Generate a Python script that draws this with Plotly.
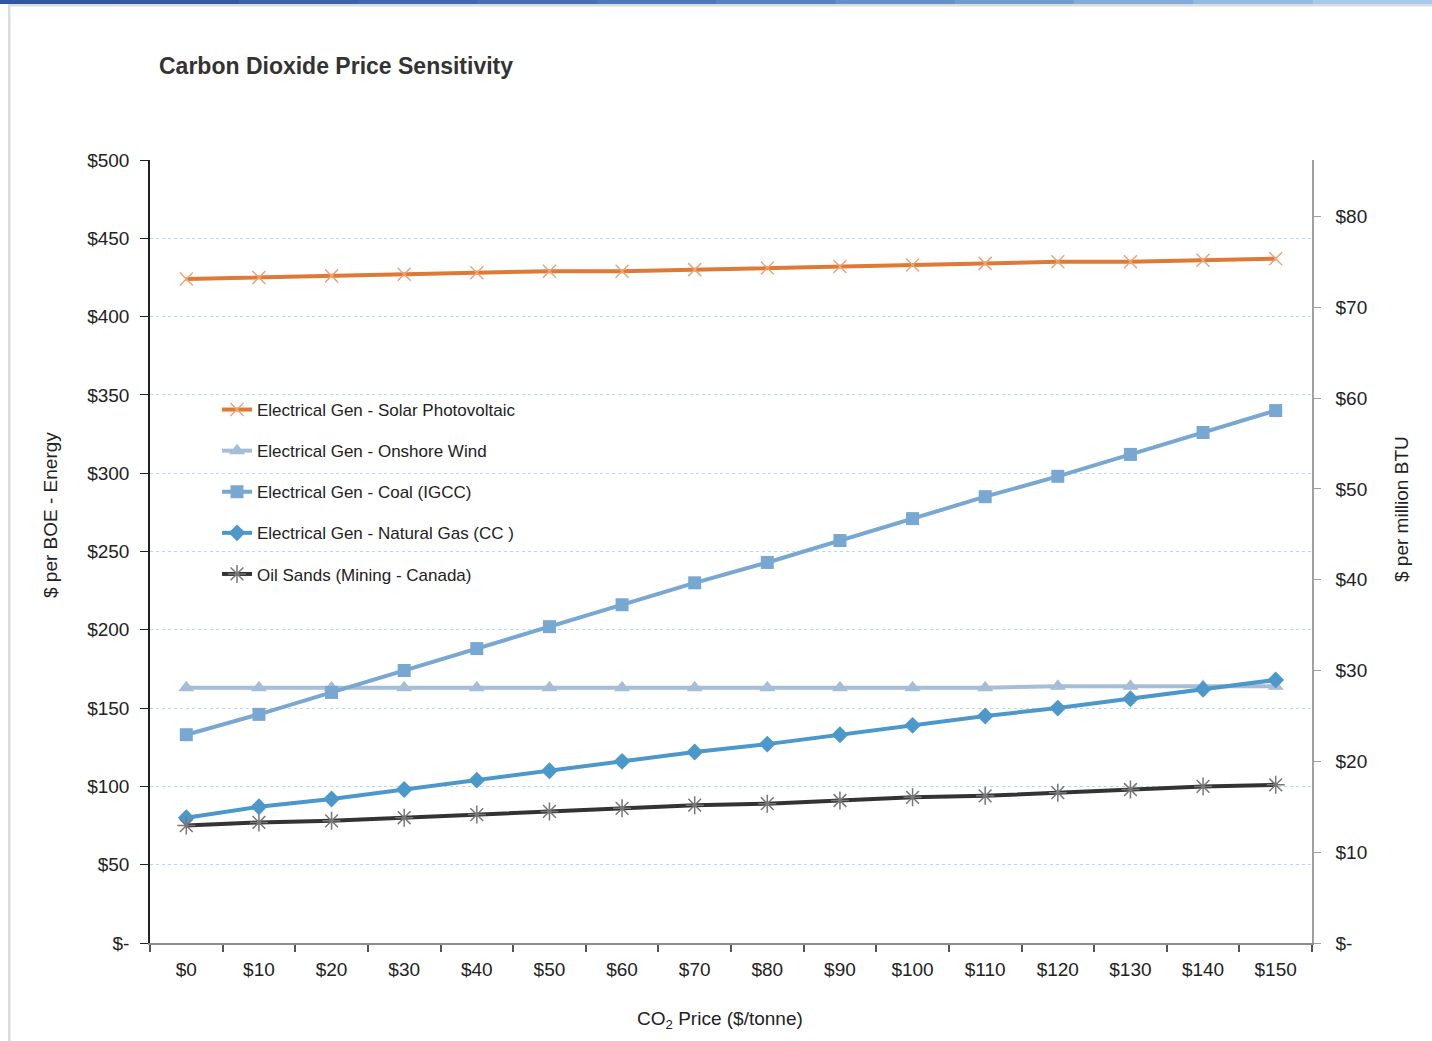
import plotly.graph_objects as go

# CO2 price categories ($/tonne)
co2_prices = ["$0", "$10", "$20", "$30", "$40", "$50", "$60", "$70",
              "$80", "$90", "$100", "$110", "$120", "$130", "$140", "$150"]

# Cost per BOE of energy for each source
solar_pv = [424, 425, 426, 427, 428, 429, 429, 430, 431, 432, 433, 434, 435, 435, 436, 437]
onshore_wind = [163, 163, 163, 163, 163, 163, 163, 163, 163, 163, 163, 163, 164, 164, 164, 164]
coal_igcc = [133, 146, 160, 174, 188, 202, 216, 230, 243, 257, 271, 285, 298, 312, 326, 340]
natural_gas_cc = [80, 87, 92, 98, 104, 110, 116, 122, 127, 133, 139, 145, 150, 156, 162, 168]
oil_sands = [75, 77, 78, 80, 82, 84, 86, 88, 89, 91, 93, 94, 96, 98, 100, 101]

# Left axis ticks ($ per BOE) and right axis ticks ($ per million BTU)
boe_ticks = [0, 50, 100, 150, 200, 250, 300, 350, 400, 450, 500]
boe_labels = ["$-", "$50", "$100", "$150", "$200", "$250", "$300", "$350", "$400", "$450", "$500"]
btu_ticks = [0, 10, 20, 30, 40, 50, 60, 70, 80]
btu_labels = ["$-", "$10", "$20", "$30", "$40", "$50", "$60", "$70", "$80"]
MMBTU_PER_BOE = 5.8

FONT = "Arial, 'Liberation Sans', sans-serif"
TICK_SIZE = 19
TEXT = "#222222"

series = [
    ("Electrical Gen - Solar Photovoltaic", solar_pv, "#DE7A36",
     dict(symbol="x-thin-open", size=13, color="#E9A57A", line=dict(width=1.5, color="#E9A57A"))),
    ("Electrical Gen - Onshore Wind", onshore_wind, "#A5BDD6",
     dict(symbol="triangle-up", size=14, color="#A5BDD6")),
    ("Electrical Gen - Coal (IGCC)", coal_igcc, "#78A8D2",
     dict(symbol="square", size=13, color="#78A8D2")),
    ("Electrical Gen - Natural Gas (CC )", natural_gas_cc, "#4C98CA",
     dict(symbol="diamond", size=13, color="#4C98CA")),
    ("Oil Sands (Mining - Canada)", oil_sands, "#333333",
     dict(symbol="asterisk-open", size=15, color="#777777", line=dict(width=1.5, color="#777777"))),
]

fig = go.Figure()
for i, (name, vals, color, marker) in enumerate(series):
    fig.add_trace(go.Scatter(
        x=co2_prices, y=vals, name=name, mode="lines+markers",
        line=dict(color=color, width=4), marker=marker,
        legendgroup=f"g{i}",
    ))

# invisible trace to carry the secondary axis
fig.add_trace(go.Scatter(x=co2_prices, y=[v / MMBTU_PER_BOE for v in solar_pv],
                         yaxis="y2", mode="lines", line=dict(width=0),
                         showlegend=False, hoverinfo="skip", opacity=0))

# page decoration: gradient band along the top and thin gray frame
W, H = 1432, 1041
L, R, T, B = 150, 1312, 160, 943


def px(xp):
    return (xp - L) / (R - L)


def py(yp):
    return (B - yp) / (B - T)


shapes = []
band_colors = ["#2F56A2", "#3459A6", "#3A61AB", "#4068B1", "#476FB6", "#4E78BC",
               "#5682C3", "#6190CA", "#6F9DD2", "#80ABDA", "#93BAE3", "#A6C8EB"]
n = len(band_colors)
for k, c in enumerate(band_colors):
    shapes.append(dict(type="rect", xref="paper", yref="paper",
                       x0=px(k * W / n), x1=px((k + 1) * W / n + 1),
                       y0=py(4), y1=py(0), fillcolor=c, line=dict(width=0), layer="below"))
shapes.append(dict(type="rect", xref="paper", yref="paper", x0=px(8), x1=px(W),
                   y0=py(6.5), y1=py(4), fillcolor="#DCDCDC", line=dict(width=0), layer="below"))
shapes.append(dict(type="rect", xref="paper", yref="paper", x0=px(8), x1=px(10.5),
                   y0=py(H), y1=py(4), fillcolor="#DCDCDC", line=dict(width=0), layer="below"))

# axis titles placed as rotated annotations
annotations = [
    dict(text="$ per BOE - Energy", textangle=-90, xref="paper", yref="paper",
         x=px(50), y=py(515), xanchor="center", yanchor="middle", showarrow=False,
         font=dict(size=TICK_SIZE, color=TEXT)),
    dict(text="$ per million BTU", textangle=-90, xref="paper", yref="paper",
         x=px(1401), y=py(509), xanchor="center", yanchor="middle", showarrow=False,
         font=dict(size=TICK_SIZE, color=TEXT)),
    dict(text="CO<sub>2</sub> Price ($/tonne)", xref="paper", yref="paper",
         x=px(720), y=py(1020), xanchor="center", yanchor="middle", showarrow=False,
         font=dict(size=TICK_SIZE, color=TEXT)),
]

fig.update_layout(
    width=W, height=H,
    margin=dict(l=L, r=W - R, t=T, b=H - B, pad=0),
    paper_bgcolor="white", plot_bgcolor="white",
    font=dict(family=FONT, size=TICK_SIZE, color=TEXT),
    shapes=shapes,
    annotations=annotations,
    title=dict(text="<b>Carbon Dioxide Price Sensitivity</b>",
               font=dict(family=FONT, size=23, color="#333333"),
               x=159 / W, xanchor="left", xref="container",
               y=1 - 66 / H, yanchor="middle", yref="container"),
    xaxis=dict(
        type="category", range=[-0.5, 15.5],
        showline=True, linecolor="#8C8C8C", linewidth=2,
        ticks="outside", ticklen=7, tickcolor="#555555", tickwidth=1.5,
        tickson="boundaries", showgrid=False, ticklabelstandoff=8,
        tickfont=dict(size=TICK_SIZE, color=TEXT),
    ),
    yaxis=dict(
        range=[0, 500], tickvals=boe_ticks, ticktext=boe_labels,
        showline=True, linecolor="#222222", linewidth=1.5,
        ticks="outside", ticklen=8, tickcolor="#222222",
        showgrid=True, gridcolor="#BBD6F0", griddash="dot", gridwidth=1,
        zeroline=False, ticklabelstandoff=7,
        tickfont=dict(size=TICK_SIZE, color=TEXT),
    ),
    yaxis2=dict(
        overlaying="y", side="right", range=[0, 500 / MMBTU_PER_BOE],
        tickvals=btu_ticks, ticktext=btu_labels,
        showline=True, linecolor="#A0A0A0", linewidth=1.5,
        ticks="outside", ticklen=7, tickcolor="#A0A0A0",
        showgrid=False, zeroline=False, ticklabelstandoff=11,
        tickfont=dict(size=TICK_SIZE, color=TEXT),
    ),
    legend=dict(
        x=px(217), y=py(392), xanchor="left", yanchor="top",
        bgcolor="rgba(0,0,0,0)", borderwidth=0,
        font=dict(size=17, color=TEXT),
        tracegroupgap=16, itemwidth=30,
    ),
    showlegend=True,
)

fig.write_html("out.html")
